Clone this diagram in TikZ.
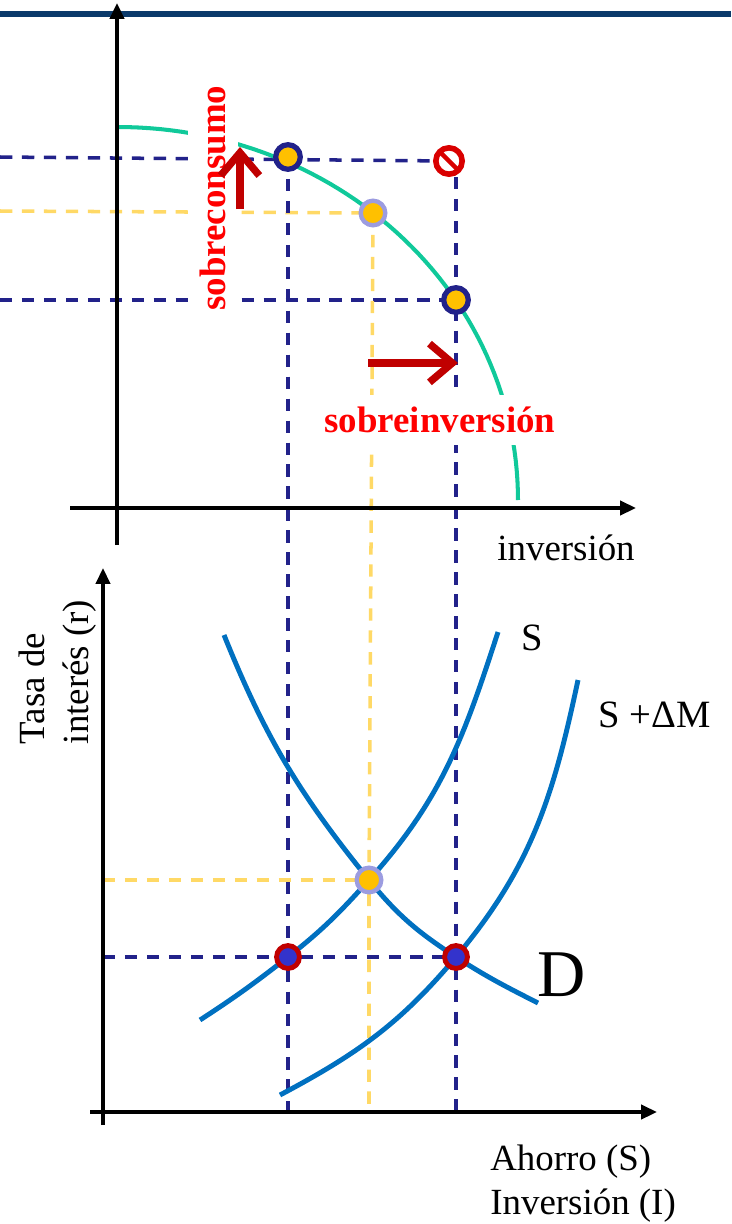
\documentclass[tikz,border=0pt]{standalone}
\usepackage{fontspec}
\setmainfont{Liberation Serif}
\usetikzlibrary{arrows.meta,positioning,backgrounds}
\definecolor{guidenavy}{HTML}{22228A}
\definecolor{guidegold}{HTML}{FFD966}
\definecolor{frontgreen}{HTML}{10C99A}
\definecolor{curveblue}{HTML}{0070C0}
\definecolor{shiftred}{HTML}{C00000}
\definecolor{dotgold}{HTML}{FFC000}
\definecolor{dotblue}{HTML}{3333CC}
\definecolor{ringlilac}{HTML}{9C9CE0}
\definecolor{barnavy}{HTML}{0B3A6B}

\begin{document}
\begin{tikzpicture}[x=0.02cm, y=-0.02cm,
  axisline/.style={-{Triangle[length=9pt,width=8pt]}, line width=2pt},
  guide/.style={line width=2pt, dash pattern=on 7pt off 5.5pt},
  demand/.style={curveblue, line width=2.8pt},
  pusharrow/.style={shiftred, line width=4.2pt, -{Straight Barb[length=13pt,width=22pt]}},
  lbl/.style={font=\fontsize{21}{25}\selectfont, inner sep=0pt},
  warn/.style={font=\fontsize{21}{25}\selectfont\bfseries, text=red, fill=white, inner xsep=3pt, inner ysep=7pt},
  dot/.style={circle, draw=guidenavy, fill=dotgold, line width=3pt, minimum size=14pt, inner sep=0pt},
  eqdot/.style={circle, draw=ringlilac, fill=dotgold, line width=2.5pt, minimum size=14pt, inner sep=0pt},
  crossdot/.style={circle, draw=shiftred, fill=dotblue, line width=2.8pt, minimum size=13pt, inner sep=0pt},
  banned/.style={circle, draw=red!85!black, fill=white, line width=3.2pt, minimum size=15pt, inner sep=0pt,
    path picture={\draw[red!85!black, line width=2.5pt] (path picture bounding box.north west) -- (path picture bounding box.south east);}}
]
  \useasboundingbox (0,0) rectangle (731,1224);
  \draw[barnavy, line width=3.4pt] (0,14) -- (731,14);

  % upper panel
  \coordinate (tO) at (117,545);
  \coordinate (tY) at (117,3);
  \coordinate (tXs) at (70,508);
  \coordinate (tX) at (636,508);
  \draw[axisline] (tO) -- (tY);
  \draw[axisline] (tXs) -- (tX);
  \node[lbl, anchor=west] (invlbl) at (497,548) {inversión};

  \node[dot] (hiC) at (288,157) {};
  \node[eqdot] (eqT) at (373,213) {};
  \node[dot] (hiI) at (456,300) {};
  \node[banned] (nogo) at (449,161) {};

  \node[warn, rotate=90] (overC) at (213,198) {sobreconsumo};
  \node[warn] (overI) at (440,420) {sobreinversión};

  \coordinate (upA) at (240,209);
  \coordinate (upB) at (240,147);
  \coordinate (rtA) at (368,363);
  \coordinate (rtB) at (458,363);
  \draw[pusharrow] (upA) -- (upB);
  \draw[pusharrow] (rtA) -- (rtB);

  % lower panel
  \coordinate (bO) at (103,1125);
  \coordinate (bY) at (103,568);
  \coordinate (bXs) at (90,1112);
  \coordinate (bX) at (657,1112);
  \draw[axisline] (bO) -- (bY);
  \draw[axisline] (bXs) -- (bX);

  \node[eqdot] (eqB) at (369,880) {};
  \node[crossdot] (lo) at (288,957) {};
  \node[crossdot] (hi) at (456,957) {};

  \node[lbl, rotate=90, align=left] (ratelbl) at (58,672) {Tasa de\\interés (r)};
  \node[lbl, align=left, anchor=north west] (qtylbl) at (490,1145) {Ahorro (S)\\Inversión (I)};
  \node[lbl, anchor=west, font=\fontsize{22}{26}\selectfont] (slbl) at (521,638) {S};
  \node[lbl, anchor=west, font=\fontsize{22}{26}\selectfont] (smlbl) at (598,715) {S +ΔM};
  \node[lbl, anchor=west, font=\fontsize{38}{40}\selectfont] (dlbl) at (537,975) {D};

  \coordinate (dTop) at (224,635);
  \coordinate (dEnd) at (538,1003);
  \coordinate (sLow) at (200,1020);
  \coordinate (sTop) at (498,632);
  \coordinate (smLow) at (280,1095);
  \coordinate (smTop) at (578,680);

  \begin{scope}[on background layer]
    \draw[guide, guidenavy] (0,157) -- (nogo.center);
    \draw[guide, guidenavy] (0,300) -- (hiI.center);
    \draw[guide, guidegold] (0,211) -- (eqT.center);
    \draw[guide, guidenavy] (hiC.center) -- (lo.center) -- (lo |- bX);
    \draw[guide, guidenavy] (hiI |- nogo.south) -- (hiI.center) -- (hi.center) -- (hi |- bX);
    \draw[guide, guidegold] (eqT.center) -- (eqB.center) -- (eqB |- bX);
    \draw[guide, guidegold] (bO |- eqB) -- (eqB.center);
    \draw[guide, guidenavy] (bO |- lo) -- (lo.center) -- (hi.center);

    \draw[frontgreen, line width=2.3pt] plot[domain=90:0, samples=60] ({118+400*cos(\x)}, {500-373*sin(\x)});

    \draw[demand] (dTop) to[out=-68,in=129] (eqB.center) to[out=-51,in=147] (hi.center) to[out=-33,in=153] (dEnd);
    \draw[demand] (sLow) to[out=33,in=-142] (lo.center) to[out=38,in=-132] (eqB.center) to[out=48,in=-108] (sTop);
    \draw[demand] (smLow) to[out=28,in=-130] (hi.center) to[out=50,in=-102] (smTop);
  \end{scope}
\end{tikzpicture}
\end{document}
